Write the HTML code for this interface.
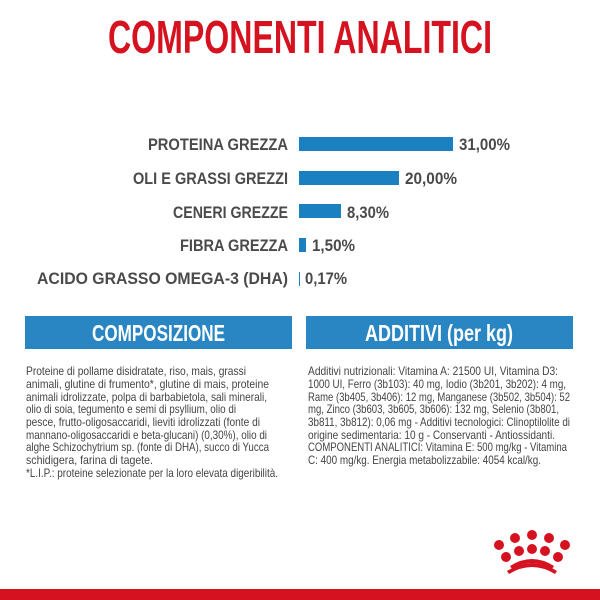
<!DOCTYPE html>
<html><head><meta charset="utf-8"><style>
html,body{margin:0;padding:0;background:#fff;}
svg{display:block}
text{font-family:"Liberation Sans Narrow","Liberation Sans",sans-serif;}
</style></head><body>
<svg width="600" height="600" viewBox="0 0 600 600" xmlns="http://www.w3.org/2000/svg">
<rect width="600" height="600" fill="#fff"/>
<text x="108" y="53" font-size="46" font-weight="bold" fill="#d5121f" textLength="384" lengthAdjust="spacingAndGlyphs">COMPONENTI ANALITICI</text>
<g font-size="17" font-weight="bold" fill="#4a4a4a">
<text x="148" y="150" textLength="140" lengthAdjust="spacingAndGlyphs">PROTEINA GREZZA</text>
<text x="133" y="184" textLength="155" lengthAdjust="spacingAndGlyphs">OLI E GRASSI GREZZI</text>
<text x="173" y="218" textLength="115" lengthAdjust="spacingAndGlyphs">CENERI GREZZE</text>
<text x="180" y="251" textLength="108" lengthAdjust="spacingAndGlyphs">FIBRA GREZZA</text>
<text x="37" y="284" textLength="251" lengthAdjust="spacingAndGlyphs">ACIDO GRASSO OMEGA-3 (DHA)</text>
</g>
<g fill="#1a80c0">
<rect x="299" y="137" width="154" height="14"/>
<rect x="299" y="171" width="100" height="14"/>
<rect x="299" y="204" width="42" height="14"/>
<rect x="299" y="238" width="7" height="14"/>
<rect x="299" y="272" width="1" height="14"/>
</g>
<g font-size="17" font-weight="bold" fill="#4a4a4a">
<text x="459" y="150" textLength="51" lengthAdjust="spacingAndGlyphs">31,00%</text>
<text x="405" y="184" textLength="52" lengthAdjust="spacingAndGlyphs">20,00%</text>
<text x="347" y="218" textLength="42" lengthAdjust="spacingAndGlyphs">8,30%</text>
<text x="312" y="251" textLength="43" lengthAdjust="spacingAndGlyphs">1,50%</text>
<text x="305" y="284" textLength="42" lengthAdjust="spacingAndGlyphs">0,17%</text>
</g>
<rect x="25" y="316" width="267" height="33" fill="#2a86c2"/>
<rect x="306" y="316" width="267" height="33" fill="#2a86c2"/>
<text x="92" y="341" font-size="23" font-weight="bold" fill="#fff" textLength="133" lengthAdjust="spacingAndGlyphs">COMPOSIZIONE</text>
<text x="365" y="341" font-size="23" font-weight="bold" fill="#fff" textLength="148" lengthAdjust="spacingAndGlyphs">ADDITIVI (per kg)</text>
<g font-size="12" fill="#444">
<text x="26" y="375" textLength="220" lengthAdjust="spacingAndGlyphs">Proteine di pollame disidratate, riso, mais, grassi</text>
<text x="26" y="388" textLength="243" lengthAdjust="spacingAndGlyphs">animali, glutine di frumento*, glutine di mais, proteine</text>
<text x="26" y="401" textLength="241" lengthAdjust="spacingAndGlyphs">animali idrolizzate, polpa di barbabietola, sali minerali,</text>
<text x="26" y="413" textLength="210" lengthAdjust="spacingAndGlyphs">olio di soia, tegumento e semi di psyllium, olio di</text>
<text x="26" y="426" textLength="234" lengthAdjust="spacingAndGlyphs">pesce, frutto-oligosaccaridi, lieviti idrolizzati (fonte di</text>
<text x="26" y="439" textLength="241" lengthAdjust="spacingAndGlyphs">mannano-oligosaccaridi e beta-glucani) (0,30%), olio di</text>
<text x="26" y="451" textLength="243" lengthAdjust="spacingAndGlyphs">alghe Schizochytrium sp. (fonte di DHA), succo di Yucca</text>
<text x="26" y="464" textLength="127" lengthAdjust="spacingAndGlyphs">schidigera, farina di tagete.</text>
<text x="26" y="477" textLength="252" lengthAdjust="spacingAndGlyphs">*L.I.P.: proteine selezionate per la loro elevata digeribilità.</text>
<text x="308" y="375" textLength="250" lengthAdjust="spacingAndGlyphs">Additivi nutrizionali: Vitamina A: 21500 UI, Vitamina D3:</text>
<text x="308" y="388" textLength="258" lengthAdjust="spacingAndGlyphs">1000 UI, Ferro (3b103): 40 mg, Iodio (3b201, 3b202): 4 mg,</text>
<text x="308" y="401" textLength="262" lengthAdjust="spacingAndGlyphs">Rame (3b405, 3b406): 12 mg, Manganese (3b502, 3b504): 52</text>
<text x="308" y="413" textLength="251" lengthAdjust="spacingAndGlyphs">mg, Zinco (3b603, 3b605, 3b606): 132 mg, Selenio (3b801,</text>
<text x="308" y="426" textLength="262" lengthAdjust="spacingAndGlyphs">3b811, 3b812): 0,06 mg - Additivi tecnologici: Clinoptilolite di</text>
<text x="308" y="439" textLength="247" lengthAdjust="spacingAndGlyphs">origine sedimentaria: 10 g - Conservanti - Antiossidanti.</text>
<text x="308" y="451" textLength="259" lengthAdjust="spacingAndGlyphs">COMPONENTI ANALITICI: Vitamina E: 500 mg/kg - Vitamina</text>
<text x="308" y="464" textLength="233" lengthAdjust="spacingAndGlyphs">C: 400 mg/kg. Energia metabolizzabile: 4054 kcal/kg.</text>
</g>
<g fill="#d5121f">
<circle cx="499" cy="545" r="5"/>
<circle cx="515" cy="538" r="5"/>
<circle cx="532" cy="535" r="5"/>
<circle cx="549" cy="538" r="5"/>
<circle cx="565" cy="545" r="5"/>
<circle cx="506" cy="557" r="5"/>
<circle cx="519" cy="551" r="5"/>
<circle cx="532" cy="549" r="5"/>
<circle cx="545" cy="551" r="5"/>
<circle cx="558" cy="557" r="5"/>
<path d="M507 571 Q532 555 557 571 L555 574 Q532 560 509 574 Z"/>
<path d="M510 566 Q532 552 554 566 L552 569 Q532 557 512 569 Z"/>
<rect x="0" y="589" width="600" height="11"/>
</g>
</svg>
</body></html>
